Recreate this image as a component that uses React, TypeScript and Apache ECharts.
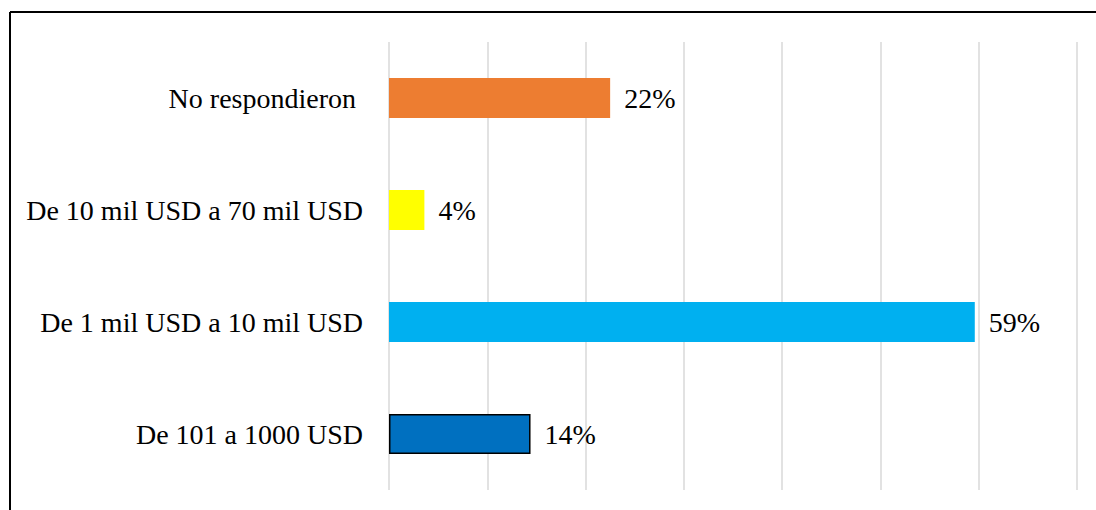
import React, { useEffect, useRef } from "react";
import * as echarts from "echarts";

const categories = [
  "De 101 a 1000 USD",
  "De 1 mil USD a 10 mil USD",
  "De 10 mil USD a 70 mil USD",
  "No respondieron ",
];
const values = [14.4, 59.6, 3.6, 22.5];
const valueLabels = ["14%", "59%", "4%", "22%"];
const colors = ["#0070C0", "#00B0F0", "#FFFF00", "#ED7D31"];
const borders = ["#000000", null, null, null];

export default function App() {
  const ref = useRef<HTMLDivElement>(null);
  useEffect(() => {
    if (!ref.current) return;
    const chart = echarts.init(ref.current, null, { renderer: "svg" });
    const font = "'Liberation Serif', 'Times New Roman', serif";
    chart.setOption({
      animation: false,
      backgroundColor: "#ffffff",
      grid: { left: 389, right: 19, top: 42, bottom: 20, containLabel: false },
      xAxis: {
        type: "value",
        min: 0,
        max: 70,
        interval: 10,
        axisLabel: { show: false },
        axisLine: { show: false },
        axisTick: { show: false },
        splitLine: { show: true, lineStyle: { color: "#d9d9d9", width: 1.5 } },
      },
      yAxis: {
        type: "category",
        data: categories,
        axisLine: { show: false },
        axisTick: { show: false },
        axisLabel: {
          margin: 26,
          color: "#000000",
          fontFamily: font,
          fontSize: 28,
        },
      },
      graphic: [
        {
          type: "line",
          shape: { x1: 10, y1: 12, x2: 1096, y2: 12 },
          style: { stroke: "#000000", lineWidth: 2 },
        },
        {
          type: "line",
          shape: { x1: 10, y1: 12, x2: 10, y2: 510 },
          style: { stroke: "#000000", lineWidth: 2 },
        },
      ],
      series: [
        {
          type: "bar",
          barWidth: 40,
          data: values.map((v, i) => ({
            value: v,
            itemStyle: {
              color: colors[i],
              borderColor: borders[i] || colors[i],
              borderWidth: borders[i] ? 1.5 : 0,
            },
          })),
          label: {
            show: true,
            position: "right",
            distance: 14,
            color: "#000000",
            fontFamily: font,
            fontSize: 28,
            formatter: (p: any) => valueLabels[p.dataIndex],
          },
        },
      ],
    });
    return () => chart.dispose();
  }, []);
  return (
    <div
      ref={ref}
      style={{ position: "fixed", left: 0, top: 0, width: 1096, height: 510, background: "#fff" }}
    />
  );
}
